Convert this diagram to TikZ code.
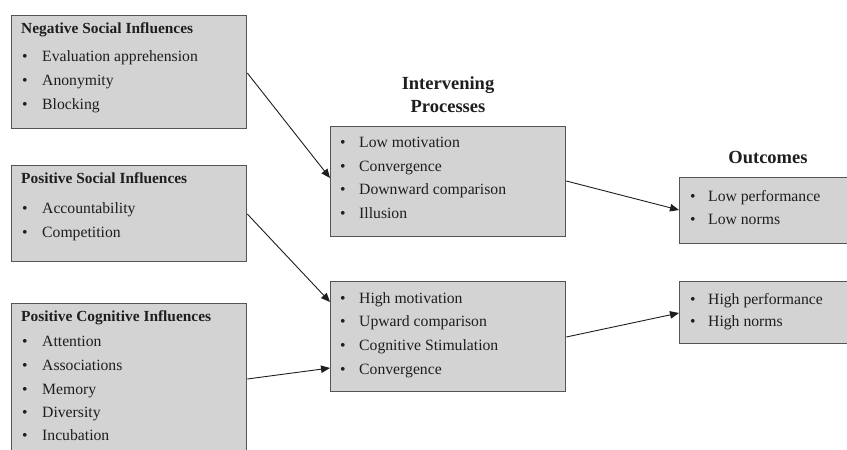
\documentclass[tikz,border=0pt]{standalone}
\usepackage{fontspec}
\setmainfont{Liberation Serif}
\usetikzlibrary{arrows.meta}
\definecolor{boxfill}{RGB}{211,211,211}
\definecolor{boxline}{RGB}{85,85,85}
\definecolor{ink}{RGB}{30,30,30}
\begin{document}
\begin{tikzpicture}[x=1pt,y=-1pt,
  box/.style={draw=boxline, line width=1.3pt, fill=boxfill, rectangle, inner sep=0pt, anchor=north west},
  item/.style={anchor=west, inner sep=0pt, text=ink, text height=11pt, text depth=3.5pt, font=\fontsize{15.7}{18}\selectfont},
  ttl/.style={anchor=west, inner sep=0pt, text=ink, text height=11pt, text depth=3.5pt, font=\fontsize{15.4}{18}\selectfont\bfseries},
  head/.style={anchor=center, inner sep=0pt, text=ink, text height=12pt, text depth=4pt, font=\fontsize{18.5}{22}\selectfont\bfseries},
  conn/.style={draw=ink, line width=0.9pt, -{Triangle[length=9pt,width=7.5pt]}}]
\useasboundingbox (0,0) rectangle (847,450);
% boxes
\node[box, minimum width=235pt, minimum height=113pt] (b1) at (11,15) {};
\node[box, minimum width=235pt, minimum height=96pt] (b2) at (11,165) {};
\node[box, minimum width=235pt, minimum height=160pt] (b3) at (11,303) {};
\node[box, minimum width=235pt, minimum height=110pt] (p1) at (330,126) {};
\node[box, minimum width=235pt, minimum height=110pt] (p2) at (330,281) {};
\node[box, minimum width=175pt, minimum height=66pt] (o1) at (679,177) {};
\node[box, minimum width=175pt, minimum height=62pt] (o2) at (679,281) {};
% headings
\node[head] (hp1) at (448,85) {Intervening};
\node[head] (hp2) at (448,108) {Processes};
\node[head] (ho) at (768,159) {Outcomes};
% box 1
\node[ttl] (b1t) at (21,30) {Negative Social Influences};
\node[item] (b1a) at (22,58) {\makebox[20pt][l]{\textbullet}Evaluation apprehension};
\node[item] (b1b) at (22,82) {\makebox[20pt][l]{\textbullet}Anonymity};
\node[item] (b1c) at (22,106) {\makebox[20pt][l]{\textbullet}Blocking};
% box 2
\node[ttl] (b2t) at (21,180) {Positive Social Influences};
\node[item] (b2a) at (22,210) {\makebox[20pt][l]{\textbullet}Accountability};
\node[item] (b2b) at (22,234) {\makebox[20pt][l]{\textbullet}Competition};
% box 3
\node[ttl] (b3t) at (21,318) {Positive Cognitive Influences};
\node[item] (b3a) at (22,343) {\makebox[20pt][l]{\textbullet}Attention};
\node[item] (b3b) at (22,367) {\makebox[20pt][l]{\textbullet}Associations};
\node[item] (b3c) at (22,391) {\makebox[20pt][l]{\textbullet}Memory};
\node[item] (b3d) at (22,414) {\makebox[20pt][l]{\textbullet}Diversity};
\node[item] (b3e) at (22,437) {\makebox[20pt][l]{\textbullet}Incubation};
% intervening low
\node[item] (p1a) at (340,144) {\makebox[19pt][l]{\textbullet}Low motivation};
\node[item] (p1b) at (340,168) {\makebox[19pt][l]{\textbullet}Convergence};
\node[item] (p1c) at (340,191) {\makebox[19pt][l]{\textbullet}Downward comparison};
\node[item] (p1d) at (340,215) {\makebox[19pt][l]{\textbullet}Illusion};
% intervening high
\node[item] (p2a) at (340,300) {\makebox[19pt][l]{\textbullet}High motivation};
\node[item] (p2b) at (340,323) {\makebox[19pt][l]{\textbullet}Upward comparison};
\node[item] (p2c) at (340,347) {\makebox[19pt][l]{\textbullet}Cognitive Stimulation};
\node[item] (p2d) at (340,371) {\makebox[19pt][l]{\textbullet}Convergence};
% outcomes
\node[item] (o1a) at (690,198) {\makebox[18pt][l]{\textbullet}Low performance};
\node[item] (o1b) at (690,221) {\makebox[18pt][l]{\textbullet}Low norms};
\node[item] (o2a) at (690,301) {\makebox[18pt][l]{\textbullet}High performance};
\node[item] (o2b) at (690,323) {\makebox[18pt][l]{\textbullet}High norms};
% connectors
\draw[conn] ([yshift=-58pt]b1.north east) -- ([yshift=-52pt]p1.north west);
\draw[conn] ([yshift=-49pt]b2.north east) -- ([yshift=-21pt]p2.north west);
\draw[conn] ([yshift=-76pt]b3.north east) -- ([yshift=-87pt]p2.north west);
\draw[conn] ([yshift=-55pt]p1.north east) -- ([yshift=-33pt]o1.north west);
\draw[conn] ([yshift=-56pt]p2.north east) -- ([yshift=-32pt]o2.north west);
\end{tikzpicture}
\end{document}
